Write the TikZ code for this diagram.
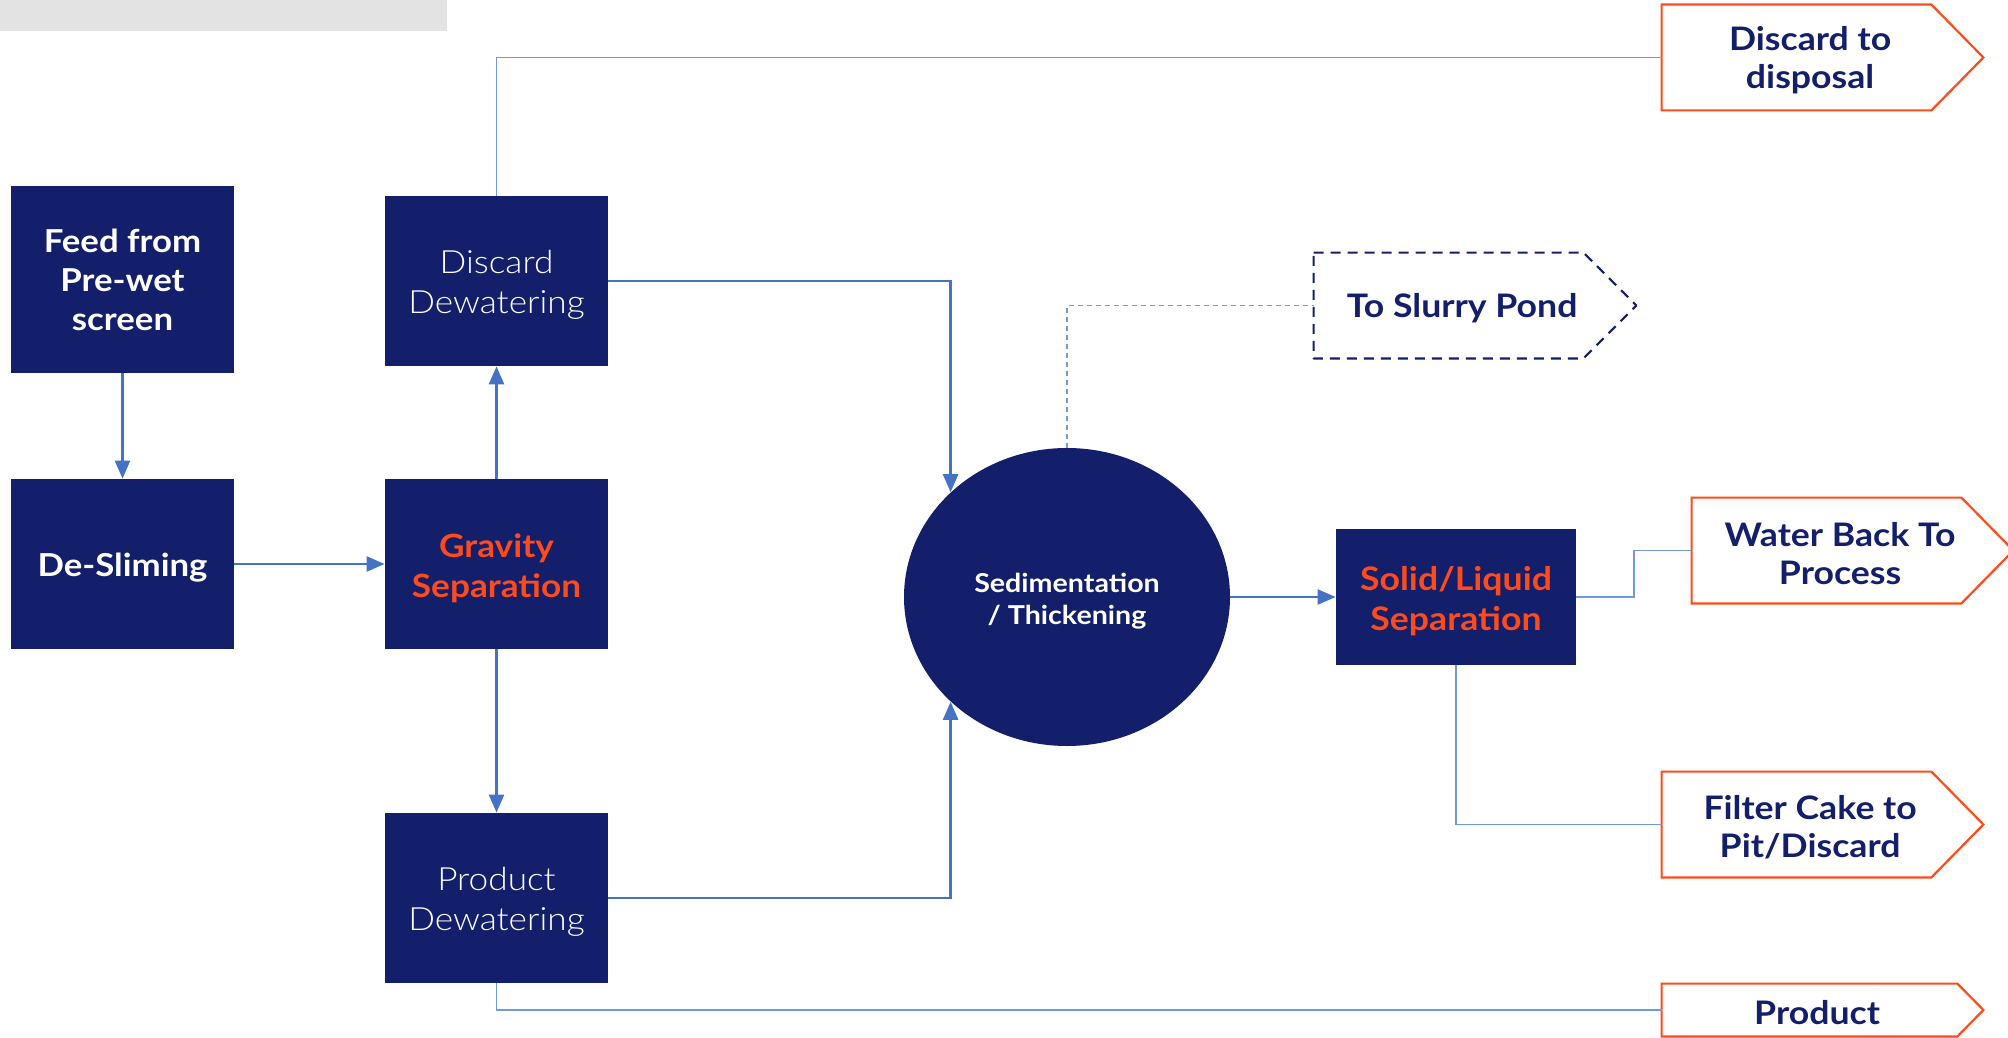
\documentclass[tikz,border=0pt]{standalone}
\usepackage{fontspec}
\setmainfont{Lato}
\newfontfamily\boldf{Lato}[UprightFont=* Bold,FakeStretch=1.1]
\newfontfamily\lightf{Lato Light}[FakeStretch=1.1]
\usetikzlibrary{arrows.meta,calc,shapes.geometric}
\definecolor{navy}{HTML}{131F6B}
\definecolor{orng}{HTML}{FF4A1C}
\definecolor{lblue}{HTML}{4472C4}
\definecolor{tblue}{HTML}{7297DA}
\begin{document}
\begin{tikzpicture}[x=0.5pt,y=-0.5pt,
  procbox/.style={fill=navy,draw=none,minimum width=111.5pt,minimum height=85pt,inner sep=0pt},
  txt/.style={inner sep=0pt,align=center,yshift=-2pt},
  boldw/.style={txt,text=white,font=\boldf\fontsize{15.8}{19.5}\selectfont},
  boldo/.style={txt,text=orng,font=\boldf\fontsize{16}{20}\selectfont},
  lightw/.style={txt,text=white,font=\lightf\fontsize{16}{20}\selectfont},
  outbody/.style={minimum width=134.5pt,minimum height=52.5pt,inner sep=0pt},
  outtxt/.style={inner sep=0pt,align=center,text=navy,font=\boldf\fontsize{16.2}{19}\selectfont,yshift=-1.5pt,xshift=6.8pt},
  flow/.style={draw=lblue,line width=1.25pt,-{Triangle[length=9pt,width=7.5pt]}},
  thinline/.style={draw=tblue,line width=0.8pt},
  outline/.style={draw=orng,line width=1.1pt,line join=miter}
]
\useasboundingbox (0,0) rectangle (2008,1038);
\fill[black!11] (0,0) rectangle (447,31);

\node[procbox,minimum height=93.5pt,label={[boldw,yshift=2pt]center:{Feed from\\Pre-wet\\screen}}] (feed) at (122.5,279.5) {};
\node[procbox,label={[boldw]center:{De-Sliming}}] (desl) at (122.5,564) {};
\node[procbox,label={[lightw]center:{Discard\\Dewatering}}] (disc) at (496.5,281) {};
\node[procbox,label={[boldo]center:{Gravity\\Separation}}] (grav) at (496.5,564) {};
\node[procbox,label={[lightw]center:{Product\\Dewatering}}] (prod) at (496.5,898) {};
\node[ellipse,fill=navy,minimum width=163pt,minimum height=149pt,inner sep=0pt,
  label={[txt,text=white,font=\boldf\fontsize{13}{16}\selectfont]center:{Sedimentation\\/ Thickening}}] (ell) at (1067,597) {};
\node[procbox,minimum width=120pt,minimum height=68pt,
  label={[boldo,font=\boldf\fontsize{16.2}{20}\selectfont]center:{Solid/Liquid\\Separation}}] (sl) at (1456,597) {};

\node[outbody,label={[outtxt]center:{Discard to\\disposal}}] (disp) at (1796.5,57.5) {};
\node[outbody,label={[outtxt]center:{To Slurry Pond}}] (slur) at (1448.5,305.5) {};
\node[outbody,label={[outtxt]center:{Water Back To\\Process}}] (water) at (1826.5,550.5) {};
\node[outbody,label={[outtxt]center:{Filter Cake to\\Pit/Discard}}] (filt) at (1796.5,824.5) {};
\node[outbody,minimum width=147.5pt,minimum height=26pt,label={[outtxt,xshift=-3pt]center:{Product}}] (pout) at (1809.5,1010) {};

\draw[outline] (disp.north west) -- (disp.north east) -- ($(disp.east)+(52,0)$) -- (disp.south east) -- (disp.south west) -- cycle;
\draw[outline] (water.north west) -- (water.north east) -- ($(water.east)+(52,0)$) -- (water.south east) -- (water.south west) -- cycle;
\draw[outline] (filt.north west) -- (filt.north east) -- ($(filt.east)+(52,0)$) -- (filt.south east) -- (filt.south west) -- cycle;
\draw[outline] (pout.north west) -- (pout.north east) -- ($(pout.east)+(26,0)$) -- (pout.south east) -- (pout.south west) -- cycle;
\draw[draw=navy,line width=1.1pt,dash pattern=on 5pt off 3.5pt,line join=round] (slur.north west) -- (slur.north east) -- ($(slur.east)+(53,0)$) -- (slur.south east) -- (slur.south west) -- cycle;

\draw[flow] (feed) -- (desl);
\draw[flow] (desl) -- (grav);
\draw[flow] (grav) -- (disc);
\draw[flow] (grav) -- (prod);
\draw[flow] (disc.east) -| (ell.138);
\draw[flow] (prod.east) -| (ell.222);
\draw[flow] (ell.east) -- (sl.west);

\draw[thinline] (disc.north) |- (disp.west);
\draw[thinline] (prod.south) |- (pout.west);
\draw[thinline] (sl.east) -| ($(sl.east)!0.5!(water.west)$) |- (water.west);
\draw[thinline] (sl.south) |- (filt.west);
\draw[thinline,dash pattern=on 2.5pt off 2pt] (ell.north) |- (slur.west);
\end{tikzpicture}
\end{document}
